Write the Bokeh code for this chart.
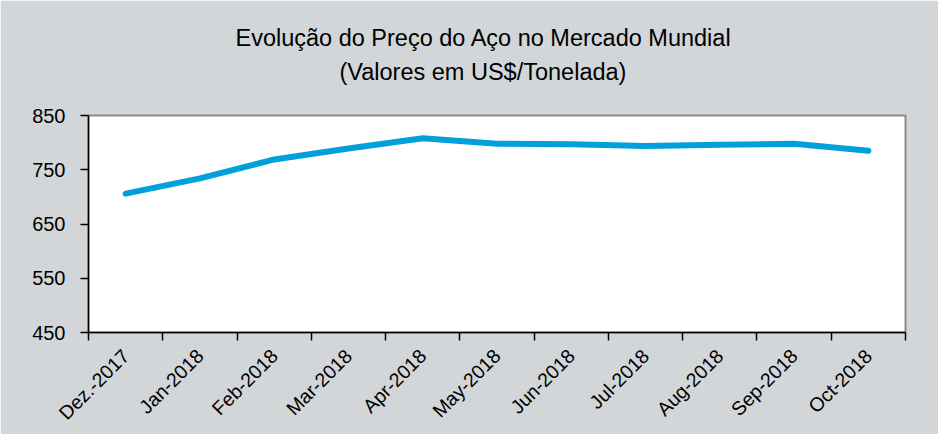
import numpy as np
from bokeh.plotting import figure
from bokeh.models import Range1d, FixedTicker, Title
from bokeh.embed import file_html
from bokeh.resources import INLINE

months = ["Dez.-2017", "Jan-2018", "Feb-2018", "Mar-2018", "Apr-2018", "May-2018",
          "Jun-2018", "Jul-2018", "Aug-2018", "Sep-2018", "Oct-2018"]
prices = [706, 734, 769, 789, 808, 798, 797, 794, 796, 798, 785]
y_ticks = [450, 550, 650, 750, 850]
title_line1 = "Evolução do Preço do Aço no Mercado Mundial"
title_line2 = "(Valores em US$/Tonelada)"

n = len(months)
centers = [i + 0.5 for i in range(n)]
bounds = [float(i) for i in range(n + 1)]

p = figure(width=938, height=434, output_backend="svg", toolbar_location=None,
           x_range=Range1d(0, n), y_range=Range1d(y_ticks[0], y_ticks[-1]),
           title=None, min_border_left=88, min_border_right=33,
           min_border_top=115, min_border_bottom=102)

p.background_fill_color = "white"
p.border_fill_color = "#d2d6d9"
p.outline_line_color = "#8a8a8a"
p.outline_line_width = 2
p.xgrid.visible = False
p.ygrid.visible = False

p.line(centers, prices, line_color="#00a0dd", line_width=6,
       line_cap="round", line_join="round")

label_font = "Liberation Sans"

xa = p.xaxis[0]
xa.ticker = FixedTicker(ticks=centers, minor_ticks=bounds)
xa.major_label_overrides = {c: m for c, m in zip(centers, months)}
xa.major_label_orientation = np.pi / 4
xa.major_tick_line_color = None
xa.major_tick_out = 0
xa.major_tick_in = 0
xa.minor_tick_line_color = "black"
xa.minor_tick_out = 8
xa.minor_tick_in = 0
xa.minor_tick_line_width = 1.5
xa.axis_line_color = "black"
xa.axis_line_width = 1.5
xa.major_label_text_font = label_font
xa.major_label_text_font_size = "19.5px"
xa.major_label_text_line_height = 1.0
xa.major_label_text_color = "black"
xa.major_label_standoff = 12

ya = p.yaxis[0]
ya.ticker = FixedTicker(ticks=y_ticks, minor_ticks=[])
ya.major_tick_line_color = "black"
ya.major_tick_out = 8
ya.major_tick_in = 0
ya.major_tick_line_width = 1.5
ya.axis_line_color = "black"
ya.axis_line_width = 1.5
ya.major_label_text_font = label_font
ya.major_label_text_font_size = "20px"
ya.major_label_text_color = "black"
ya.major_label_standoff = 15

spacer = Title(text=" ", text_font_size="2px", standoff=27)
t2 = Title(text=title_line2, align="left", text_font="Liberation Sans",
           text_font_size="23.5px", text_font_style="normal", text_color="black",
           standoff=0, offset=251)
t1 = Title(text=title_line1, align="left", text_font="Liberation Sans",
           text_font_size="23.5px", text_font_style="normal", text_color="black",
           standoff=12, offset=147)
p.add_layout(spacer, "above")
p.add_layout(t2, "above")
p.add_layout(t1, "above")

open("out.html", "w").write(file_html(p, INLINE))
